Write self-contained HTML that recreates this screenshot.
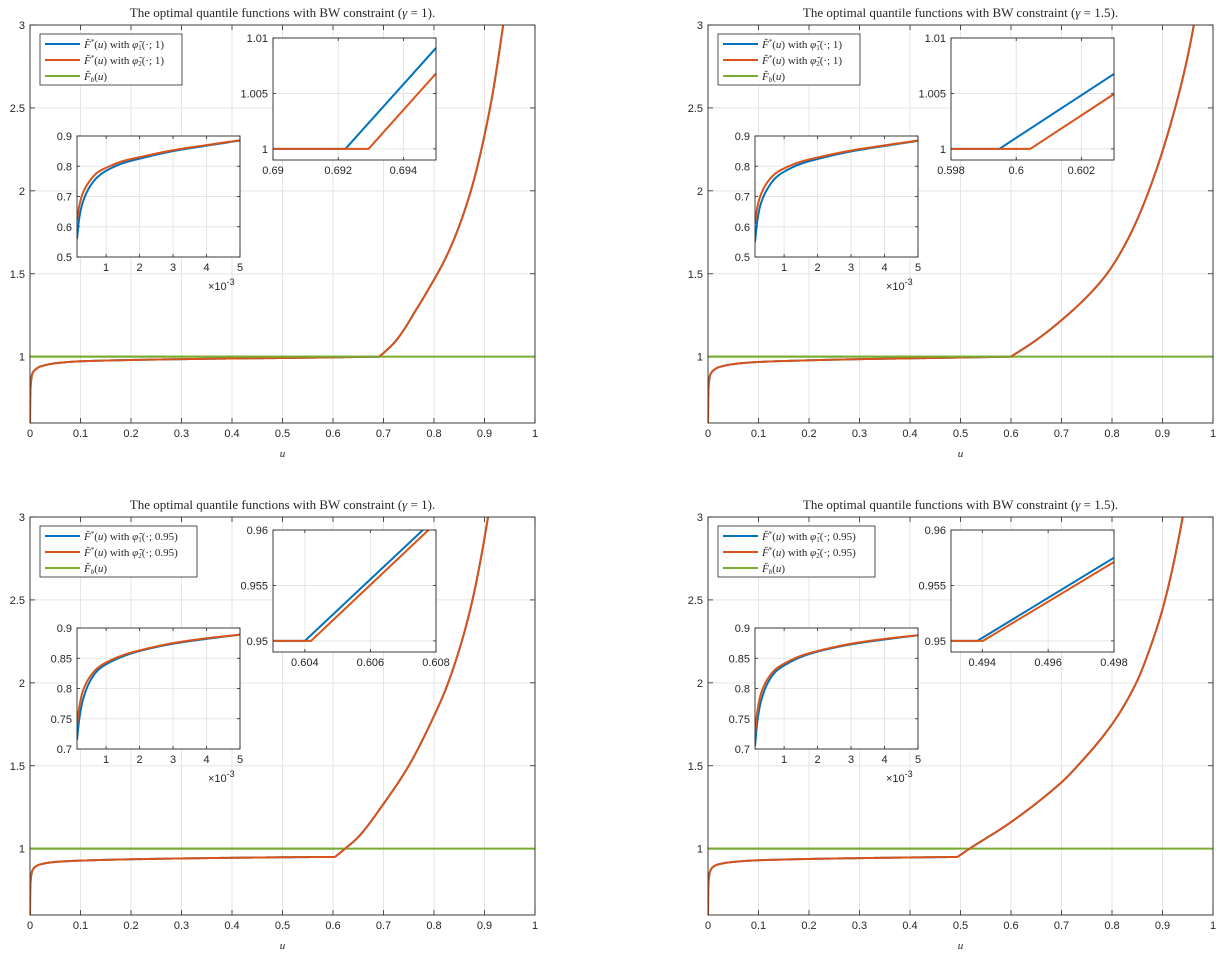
<!DOCTYPE html>
<html><head><meta charset="utf-8"><style>
html,body{margin:0;padding:0;background:#fff;}
svg{display:block;}
text{fill:#262626;}
.tk{font-family:"Liberation Sans",sans-serif;font-size:11px;}
.ti{font-family:"Liberation Serif",serif;font-size:13px;}
.lg{font-family:"Liberation Serif",serif;font-size:11px;}
</style></head><body>
<svg id="fig" xmlns="http://www.w3.org/2000/svg" width="1224" height="954" viewBox="0 0 1224 954"></svg>
<script>
// ---------------- data ----------------
const xTickVals=[0,0.1,0.2,0.3,0.4,0.5,0.6,0.7,0.8,0.9,1];
const xTickLabels=["0","0.1","0.2","0.3","0.4","0.5","0.6","0.7","0.8","0.9","1"];
const yTickVals=[1,1.5,2,2.5,3];
const yTickLabels=["1","1.5","2","2.5","3"];
const baselineLevel=[1];

// top-left (gamma=1, phi(.;1))
const tlFlatU=[0,0.0005,0.002,0.005,0.01,0.02,0.05,0.1,0.2,0.3,0.4,0.5,0.6,0.692];
const tlFlatY=[0.6,0.76,0.85,0.9,0.92,0.94,0.96,0.972,0.98,0.985,0.989,0.992,0.996,1.0];
const tlRiseU=[0.692,0.72,0.74,0.76,0.784,0.83,0.873,0.911,0.937,0.95];
const tlRiseY=[1,1.08,1.16,1.26,1.38,1.64,2.0,2.5,3.0,3.3];
// top-right (gamma=1.5, phi(.;1))
const trFlatU=[0,0.0005,0.002,0.005,0.01,0.02,0.05,0.1,0.2,0.3,0.4,0.5,0.6];
const trFlatY=[0.6,0.76,0.85,0.895,0.915,0.935,0.955,0.968,0.978,0.985,0.99,0.995,1.0];
const trRiseU=[0.6,0.65,0.7,0.75,0.79,0.83,0.873,0.925,0.962,0.975];
const trRiseY=[1,1.1,1.22,1.36,1.5,1.7,2.0,2.5,3.0,3.3];
// bottom-left (gamma=1, phi(.;0.95))
const blFlatU=[0,0.0005,0.002,0.005,0.01,0.02,0.05,0.1,0.2,0.3,0.4,0.5,0.6,0.604];
const blFlatY=[0.6,0.76,0.83,0.87,0.89,0.905,0.92,0.928,0.936,0.941,0.945,0.948,0.95,0.95];
const blRiseU=[0.604,0.624,0.65,0.7,0.75,0.8,0.828,0.87,0.907,0.92];
const blRiseY=[0.95,1.0,1.07,1.27,1.5,1.8,2.0,2.42,3.0,3.3];
// bottom-right (gamma=1.5, phi(.;0.95))
const brFlatU=[0,0.0005,0.002,0.005,0.01,0.02,0.05,0.1,0.2,0.3,0.4,0.494];
const brFlatY=[0.6,0.76,0.83,0.87,0.89,0.905,0.92,0.93,0.938,0.943,0.947,0.95];
const brRiseU=[0.494,0.518,0.6,0.7,0.726,0.8,0.848,0.88,0.905,0.94,0.955];
const brRiseY=[0.95,1.0,1.16,1.4,1.48,1.75,2.0,2.25,2.5,3.0,3.3];

// small-u insets (x in units of 1e-3)
const insetX=[0.13,0.2,0.3,0.5,0.75,1,1.5,2,3,4,5];
const tlInsetBlue=[0.56,0.63,0.68,0.73,0.765,0.785,0.81,0.825,0.85,0.868,0.885];
const tlInsetRed=[0.62,0.67,0.71,0.75,0.78,0.795,0.817,0.83,0.853,0.87,0.886];
const trInsetBlue=[0.55,0.62,0.675,0.725,0.762,0.782,0.808,0.824,0.849,0.867,0.884];
const trInsetRed=[0.61,0.665,0.705,0.747,0.777,0.793,0.815,0.829,0.852,0.869,0.885];
const blInsetBlue=[0.715,0.75,0.78,0.81,0.83,0.84,0.853,0.862,0.874,0.882,0.889];
const blInsetRed=[0.74,0.77,0.795,0.818,0.834,0.843,0.855,0.863,0.875,0.883,0.889];
const brInsetBlue=[0.705,0.745,0.777,0.808,0.828,0.838,0.852,0.861,0.873,0.881,0.888];
const brInsetRed=[0.725,0.762,0.79,0.815,0.832,0.841,0.854,0.862,0.874,0.882,0.888];
const insetXTicks=[1,2,3,4,5];
const insetXTickLabels=["1","2","3","4","5"];
const insetYTicksTop=[0.5,0.6,0.7,0.8,0.9];
const insetYLabelsTop=["0.5","0.6","0.7","0.8","0.9"];
const insetYTicksBot=[0.7,0.75,0.8,0.85,0.9];
const insetYLabelsBot=["0.7","0.75","0.8","0.85","0.9"];

// kink zoom insets
const tlZoomBlueX=[0.69,0.69222,0.695], tlZoomBlueY=[1,1,1.0091];
const tlZoomRedX=[0.69,0.69293,0.695], tlZoomRedY=[1,1,1.0068];
const trZoomBlueX=[0.598,0.59948,0.603], trZoomBlueY=[1,1,1.00676];
const trZoomRedX=[0.598,0.60043,0.603], trZoomRedY=[1,1,1.00495];
const blZoomBlueX=[0.60303,0.604,0.6076], blZoomBlueY=[0.95,0.95,0.96];
const blZoomRedX=[0.60303,0.60419,0.60777], blZoomRedY=[0.95,0.95,0.96];
const brZoomBlueX=[0.49305,0.49385,0.498], brZoomBlueY=[0.95,0.95,0.9575];
const brZoomRedX=[0.49305,0.49402,0.498], brZoomRedY=[0.95,0.95,0.95712];

// ---------------- drawing ----------------
const NS='http://www.w3.org/2000/svg';
const svg=document.getElementById('fig');
const BLUE='#0072BD',RED='#D95319',GREEN='#77AC30',AX='#262626',GRID='#e5e5e5';
let clipN=0;
function mk(tag,attrs,parent){const e=document.createElementNS(NS,tag);for(const k in attrs)e.setAttribute(k,attrs[k]);if(parent)parent.appendChild(e);return e;}
function monoSample(xs,ys){
  const n=xs.length;if(n<3)return xs.map((x,i)=>[x,ys[i]]);
  const d=[],m=new Array(n);
  for(let i=0;i<n-1;i++)d.push((ys[i+1]-ys[i])/(xs[i+1]-xs[i]));
  m[0]=d[0];m[n-1]=d[n-2];
  for(let i=1;i<n-1;i++){m[i]=(d[i-1]*d[i]<=0)?0:2/(1/d[i-1]+1/d[i]);}
  const out=[];
  for(let i=0;i<n-1;i++){
    const h=xs[i+1]-xs[i];
    for(let k=0;k<20;k++){
      const t=k/20,t2=t*t,t3=t2*t;
      const y=(2*t3-3*t2+1)*ys[i]+(t3-2*t2+t)*h*m[i]+(-2*t3+3*t2)*ys[i+1]+(t3-t2)*h*m[i+1];
      out.push([xs[i]+t*h,y]);
    }
  }
  out.push([xs[n-1],ys[n-1]]);
  return out;
}
function axes(parent,box,xd,yd,xt,xl,yt,yl,tickLen,fs,name){
  const g=mk('g',{},parent);
  
  
  const sx=v=>box.x0+(v-xd[0])/(xd[1]-xd[0])*(box.x1-box.x0);
  const sy=v=>box.y1-(v-yd[0])/(yd[1]-yd[0])*(box.y1-box.y0);
  mk('rect',{x:box.x0,y:box.y0,width:box.x1-box.x0,height:box.y1-box.y0,fill:'#fff'},g);
  xt.forEach((v,i)=>{const x=sx(v);
    const gl=mk('line',{x1:x,x2:x,y1:box.y0,y2:box.y1,stroke:GRID,'stroke-width':1},g);
    
    
    mk('line',{x1:x,x2:x,y1:box.y1,y2:box.y1-tickLen,stroke:AX,'stroke-width':0.8},g);
    mk('line',{x1:x,x2:x,y1:box.y0,y2:box.y0+tickLen,stroke:AX,'stroke-width':0.8},g);
    const t=mk('text',{x:x,y:box.y1+14,'text-anchor':'middle',class:'tk','font-size':fs},g);
    
    
    t.textContent=xl[i];});
  yt.forEach((v,i)=>{const y=sy(v);
    const gl=mk('line',{x1:box.x0,x2:box.x1,y1:y,y2:y,stroke:GRID,'stroke-width':1},g);
    
    
    mk('line',{x1:box.x0,x2:box.x0+tickLen,y1:y,y2:y,stroke:AX,'stroke-width':0.8},g);
    mk('line',{x1:box.x1,x2:box.x1-tickLen,y1:y,y2:y,stroke:AX,'stroke-width':0.8},g);
    const t=mk('text',{x:box.x0-5,y:y+4,'text-anchor':'end',class:'tk','font-size':fs},g);
    
    
    t.textContent=yl[i];});
  const id='c'+(clipN++);
  const cp=mk('clipPath',{id:id},g);
  mk('rect',{x:box.x0,y:box.y0,width:box.x1-box.x0,height:box.y1-box.y0},cp);
  const plot=mk('g',{'clip-path':'url(#'+id+')'},g);
  return {g,plot,sx,sy,box};
}
function border(a){
  const r=mk('rect',{x:a.box.x0,y:a.box.y0,width:a.box.x1-a.box.x0,height:a.box.y1-a.box.y0,fill:'none',stroke:AX,'stroke-width':0.9},a.g);
  
  
}
function curve(a,xs,ys,color,name,smooth){
  const raw=smooth?monoSample(xs,ys):xs.map((x,i)=>[x,ys[i]]);
  const pts=raw.map(p=>[a.sx(p[0]),a.sy(p[1])]);
  const d='M'+pts.map(p=>p[0].toFixed(2)+','+p[1].toFixed(2)).join(' L');
  const p=mk('path',{d:d,fill:'none',stroke:color,'stroke-width':2,'stroke-linejoin':'round'},a.plot);
  
  
}
function legendText(parent,x,y,kind,sub,arg){
  const t=mk('text',{x:x,y:y,class:'lg'},parent);
  
  
  if(kind==='b'){
    t.innerHTML='<tspan font-style="italic">F&#774;</tspan><tspan dy="2" font-size="7" font-style="italic">b</tspan><tspan dy="-2">(</tspan><tspan font-style="italic">u</tspan>)';
  }else{
    t.innerHTML='<tspan font-style="italic">F&#774;</tspan><tspan dy="-4" font-size="7">*</tspan><tspan dy="4">(</tspan><tspan font-style="italic">u</tspan>) with <tspan font-style="italic">&#966;&#771;</tspan><tspan dy="2" font-size="7">'+sub+'</tspan><tspan dy="-2">(&#183;; '+arg+')</tspan>';
  }
}
function panel(P){
  const G=mk('g',{},svg);
  
  
  const t=mk('text',{x:(P.x0+P.x1)/2,y:P.y0-8,'text-anchor':'middle',class:'ti'},G);
  
  
  t.innerHTML='The optimal quantile functions with BW constraint (<tspan font-style="italic">&#947;</tspan> = '+P.gamma+').';
  const a=axes(G,{x0:P.x0,x1:P.x1,y0:P.y0,y1:P.y1},[0,1],[0.6,3],xTickVals,xTickLabels,yTickVals,yTickLabels,5,11,'main-axes');
  baselineLevel.forEach(v=>{curve(a,[0,1],[v,v],GREEN,'baseline-Fb',false);});
  curve(a,P.flatU,P.flatY,BLUE,'series-phi1-flat',true);
  curve(a,P.riseU,P.riseY,BLUE,'series-phi1-rise',true);
  curve(a,P.flatU,P.flatY,RED,'series-phi2-flat',true);
  curve(a,P.riseU,P.riseY,RED,'series-phi2-rise',true);
  baselineLevel.forEach(v=>{curve(a,[0,P.kink],[v,v],GREEN,'baseline-Fb-overlay',false);});
  border(a);
  const xl=mk('text',{x:(P.x0+P.x1)/2,y:P.y1+34,'text-anchor':'middle',class:'lg','font-size':13,'font-style':'italic'},G);
  
  
  xl.textContent='u';
  const L=mk('g',{},G);
  
  
  const lx=P.x0+10,ly=P.y0+9;
  mk('rect',{x:lx,y:ly,width:P.legW,height:51,fill:'#fff',stroke:AX,'stroke-width':0.8},L);
  [[BLUE,'s','1'],[RED,'s','2'],[GREEN,'b','']].forEach((r,i)=>{
    const yy=ly+10+i*16;
    const ln=mk('line',{x1:lx+5,x2:lx+40,y1:yy,y2:yy,stroke:r[0],'stroke-width':2},L);
    
    
    legendText(L,lx+44,yy+4,r[1],r[2],P.arg);
  });
  const ib={x0:P.x0+47,x1:P.x0+210,y0:P.y0+111,y1:P.y0+232};
  const ia=axes(G,ib,[0.13,5],P.insYd,insetXTicks,insetXTickLabels,P.insYt,P.insYl,3,11,'inset-small-u');
  curve(ia,insetX,P.insBlue,BLUE,'inset-phi1',true);
  curve(ia,insetX,P.insRed,RED,'inset-phi2',true);
  border(ia);
  const ex=mk('text',{x:ib.x1-32,y:ib.y1+33,class:'tk','font-size':11},G);
  
  
  ex.innerHTML='&#215;10<tspan dy="-5" font-size="9">-3</tspan>';
  const zb={x0:P.x0+P.zx0,x1:P.x0+P.zx0+163,y0:P.y0+13,y1:P.y0+135};
  const za=axes(G,zb,P.zXd,P.zYd,P.zXt,P.zXl,P.zYt,P.zYl,3,11,'inset-kink-zoom');
  curve(za,P.zBX,P.zBY,BLUE,'zoom-phi1',false);
  curve(za,P.zRX,P.zRY,RED,'zoom-phi2',false);
  border(za);
}
panel({name:'panel-top-left',gamma:'1',arg:'1',x0:30,x1:535,y0:25,y1:423,kink:0.692,legW:142,
  flatU:tlFlatU,flatY:tlFlatY,riseU:tlRiseU,riseY:tlRiseY,
  insYd:[0.5,0.9],insYt:insetYTicksTop,insYl:insetYLabelsTop,insBlue:tlInsetBlue,insRed:tlInsetRed,
  zx0:243,zXd:[0.69,0.695],zXt:[0.69,0.692,0.694],zXl:["0.69","0.692","0.694"],zYd:[0.999,1.01],zYt:[1,1.005,1.01],zYl:["1","1.005","1.01"],
  zBX:tlZoomBlueX,zBY:tlZoomBlueY,zRX:tlZoomRedX,zRY:tlZoomRedY});
panel({name:'panel-top-right',gamma:'1.5',arg:'1',x0:708,x1:1213,y0:25,y1:423,kink:0.6,legW:142,
  flatU:trFlatU,flatY:trFlatY,riseU:trRiseU,riseY:trRiseY,
  insYd:[0.5,0.9],insYt:insetYTicksTop,insYl:insetYLabelsTop,insBlue:trInsetBlue,insRed:trInsetRed,
  zx0:243,zXd:[0.598,0.603],zXt:[0.598,0.6,0.602],zXl:["0.598","0.6","0.602"],zYd:[0.999,1.01],zYt:[1,1.005,1.01],zYl:["1","1.005","1.01"],
  zBX:trZoomBlueX,zBY:trZoomBlueY,zRX:trZoomRedX,zRY:trZoomRedY});
panel({name:'panel-bottom-left',gamma:'1',arg:'0.95',x0:30,x1:535,y0:517,y1:915,kink:0.604,legW:157,
  flatU:blFlatU,flatY:blFlatY,riseU:blRiseU,riseY:blRiseY,
  insYd:[0.7,0.9],insYt:insetYTicksBot,insYl:insetYLabelsBot,insBlue:blInsetBlue,insRed:blInsetRed,
  zx0:243,zXd:[0.60303,0.608],zXt:[0.604,0.606,0.608],zXl:["0.604","0.606","0.608"],zYd:[0.949,0.96],zYt:[0.95,0.955,0.96],zYl:["0.95","0.955","0.96"],
  zBX:blZoomBlueX,zBY:blZoomBlueY,zRX:blZoomRedX,zRY:blZoomRedY});
panel({name:'panel-bottom-right',gamma:'1.5',arg:'0.95',x0:708,x1:1213,y0:517,y1:915,kink:0.494,legW:157,
  flatU:brFlatU,flatY:brFlatY,riseU:brRiseU,riseY:brRiseY,
  insYd:[0.7,0.9],insYt:insetYTicksBot,insYl:insetYLabelsBot,insBlue:brInsetBlue,insRed:brInsetRed,
  zx0:243,zXd:[0.49305,0.498],zXt:[0.494,0.496,0.498],zXl:["0.494","0.496","0.498"],zYd:[0.949,0.96],zYt:[0.95,0.955,0.96],zYl:["0.95","0.955","0.96"],
  zBX:brZoomBlueX,zBY:brZoomBlueY,zRX:brZoomRedX,zRY:brZoomRedY});
</script>
</body></html>
